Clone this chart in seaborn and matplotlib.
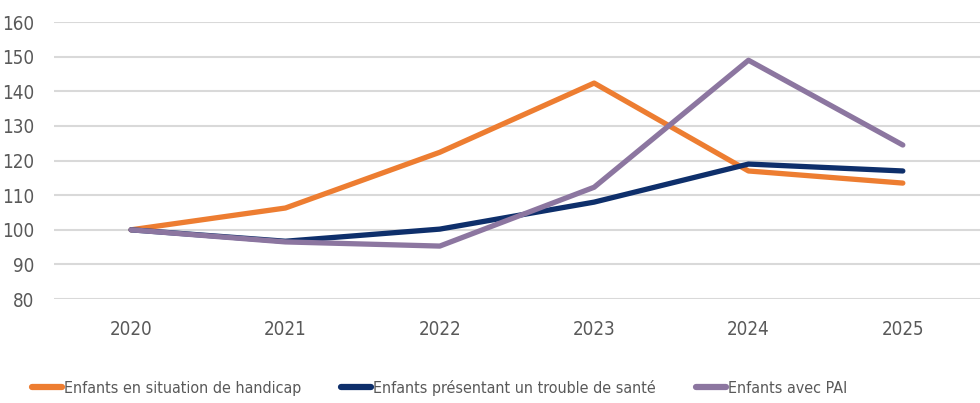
import pandas as pd
import matplotlib.pyplot as plt
import seaborn as sns

years = ['2020', '2021', '2022', '2023', '2024', '2025']
handicap = [100, 106.3, 122.4, 142.4, 117.0, 113.5]
trouble_sante = [100, 96.7, 100.2, 108.0, 119.0, 117.0]
pai = [100, 96.5, 95.3, 112.3, 149.0, 124.5]

series_names = ['Enfants en situation de handicap',
                'Enfants présentant un trouble de santé',
                'Enfants avec PAI']
colors = ['#ED7D31', '#0E2F6B', '#8C76A0']

df = pd.DataFrame({
    'annee': years * 3,
    'valeur': handicap + trouble_sante + pai,
    'serie': [series_names[0]] * 6 + [series_names[1]] * 6 + [series_names[2]] * 6,
})

sns.set_theme(style='white')
plt.rcParams['font.family'] = ['DejaVu Sans']
plt.rcParams['font.stretch'] = 'condensed'

fig = plt.figure(figsize=(9.8, 4.03), dpi=100)
ax = fig.add_axes([0.055, 0.258, 0.945, 0.687])

sns.lineplot(data=df, x='annee', y='valeur', hue='serie', palette=colors,
             linewidth=3.8, ax=ax, sort=False, legend=False)
for ln in ax.get_lines():
    ln.set_solid_capstyle('round')

ax.set_xlim(-0.5, 5.5)
ax.set_ylim(80, 160)
ax.set_yticks(range(80, 161, 10))
ax.grid(axis='y', color='#D9D9D9', linewidth=1.5)
ax.set_axisbelow(True)
for s in ax.spines.values():
    s.set_visible(False)
ax.set_xlabel('')
ax.set_ylabel('')
ax.tick_params(axis='both', length=0, labelsize=13.5, labelcolor='#595959')
ax.tick_params(axis='y', pad=14)
ax.tick_params(axis='x', pad=15)

handles = [plt.Line2D([], [], color=c, linewidth=4.5, solid_capstyle='round')
           for c in colors]
fig.legend(handles, series_names, loc='lower left', bbox_to_anchor=(0.018, -0.018),
           ncol=3, frameon=False, fontsize=11.5, labelcolor='#595959',
           handlelength=1.9, handletextpad=0.1, columnspacing=2.5)

fig.savefig('out.png', dpi=100)
